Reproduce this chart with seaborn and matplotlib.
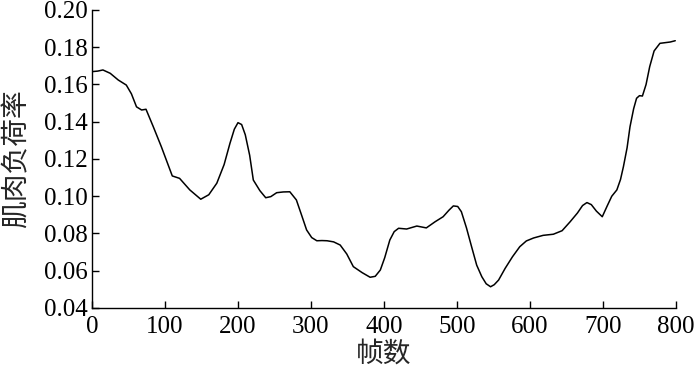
import matplotlib
matplotlib.use('Agg')
import matplotlib.pyplot as plt
import pandas as pd
import seaborn as sns

# values
frames = [0, 8, 15, 25, 36, 47, 54, 61, 68, 74, 84, 95, 110, 120, 134, 149, 160,
          171, 181, 189, 195, 200, 205, 210, 216, 221, 230, 238, 245, 253, 262,
          271, 280, 287, 294, 301, 308, 315, 322, 331, 340, 349, 358, 370, 381,
          388, 395, 401, 408, 414, 420, 431, 445, 458, 470, 481, 489, 495, 501,
          506, 513, 520, 527, 534, 540, 546, 551, 557, 566, 576, 586, 595, 605,
          618, 632, 644, 655, 665, 672, 678, 684, 691, 699, 706, 712, 719, 724,
          728, 733, 737, 742, 746, 750, 754, 759, 764, 770, 778, 786, 792, 799]
load = [0.1669, 0.1672, 0.1678, 0.1660, 0.1624, 0.1597, 0.1550, 0.1480, 0.1463,
        0.1467, 0.1373, 0.1266, 0.1109, 0.1096, 0.1034, 0.0984, 0.1008, 0.1070,
        0.1170, 0.1284, 0.1360, 0.1395, 0.1385, 0.1330, 0.1220, 0.1087, 0.1030,
        0.0992, 0.0998, 0.1019, 0.1023, 0.1024, 0.0980, 0.0900, 0.0819, 0.0778,
        0.0761, 0.0762, 0.0761, 0.0755, 0.0738, 0.0690, 0.0622, 0.0590, 0.0565,
        0.0570, 0.0604, 0.0670, 0.0765, 0.0810, 0.0828, 0.0824, 0.0840, 0.0830,
        0.0863, 0.0890, 0.0925, 0.0948, 0.0945, 0.0917, 0.0830, 0.0729, 0.0630,
        0.0568, 0.0530, 0.0514, 0.0525, 0.0550, 0.0613, 0.0675, 0.0729, 0.0760,
        0.0776, 0.0790, 0.0796, 0.0815, 0.0863, 0.0910, 0.0950, 0.0966, 0.0955,
        0.0920, 0.0890, 0.0950, 0.1000, 0.1034, 0.1090, 0.1159, 0.1260, 0.1373,
        0.1470, 0.1526, 0.1540, 0.1538, 0.1600, 0.1696, 0.1780, 0.1821, 0.1825,
        0.1828, 0.1835]

df = pd.DataFrame({'frame': frames, 'load': load})

sns.set_style('ticks')
plt.rcParams['font.family'] = ['Liberation Serif', 'Noto Sans CJK SC']
plt.rcParams['xtick.direction'] = 'in'
plt.rcParams['ytick.direction'] = 'in'

fig = plt.figure(figsize=(7, 3.7), dpi=100)
ax = fig.add_axes([0.1314, 0.1676, 0.8343, 0.8054])
sns.lineplot(x='frame', y='load', data=df, color='black', linewidth=1.1, ax=ax)

ax.set_xlim(0, 800)
ax.set_ylim(0.04, 0.20)
ax.set_xticks(range(0, 801, 100))
ax.set_yticks([0.04, 0.06, 0.08, 0.10, 0.12, 0.14, 0.16, 0.18, 0.20])
ax.set_yticklabels(['0.04', '0.06', '0.08', '0.10', '0.12', '0.14', '0.16', '0.18', '0.20'])
ax.tick_params(labelsize=18, length=5, width=1, colors='black')
ax.tick_params(axis='x', pad=6)
ax.tick_params(axis='y', pad=3)
sns.despine(ax=ax)
for s in ['left', 'bottom']:
    ax.spines[s].set_color('black')
    ax.spines[s].set_linewidth(1)

ax.set_xlabel('帧数', fontsize=20, family=['Noto Sans CJK SC'], labelpad=0)
ax.set_ylabel('肌肉负荷率', fontsize=20, family=['Noto Sans CJK SC'], labelpad=9)

plt.savefig('out.png', dpi=100)
